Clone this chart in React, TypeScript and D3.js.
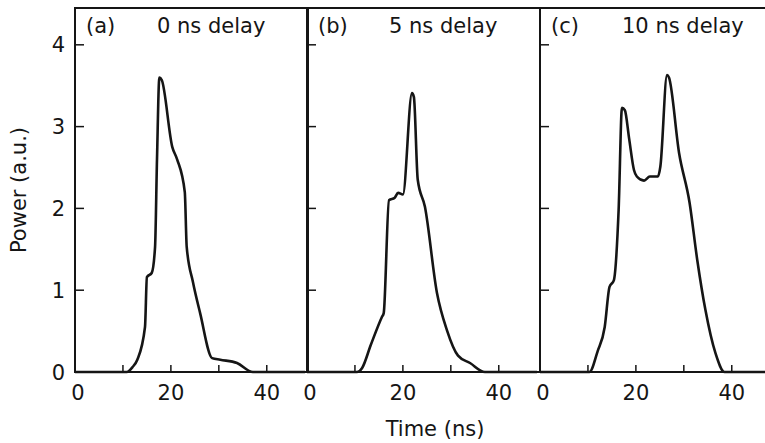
import React from "react";
import * as d3 from "d3";

const panelLabels = ["(a)", "(b)", "(c)"];
const delayLabels = ["0 ns delay", "5 ns delay", "10 ns delay"];

const timeA = [0, 10.8, 12.0, 13.0, 14.6, 15.0, 16.0, 16.7, 17.1, 17.6, 18.1, 20.3, 21.3, 22.9, 23.3, 24.6, 26.1, 28.6, 30.3, 33.8, 37.1, 48];
const powerA = [0, 0, 0.06, 0.15, 0.55, 1.16, 1.21, 1.53, 2.59, 3.6, 3.57, 2.75, 2.6, 2.2, 1.53, 1.1, 0.72, 0.17, 0.15, 0.11, 0, 0];

const timeB = [0, 10.4, 11.5, 13.3, 15.6, 16.0, 17.1, 18.3, 19.0, 20.0, 21.9, 22.3, 23.1, 24.6, 27.1, 29.2, 31.5, 34.0, 37.1, 48];
const powerB = [0, 0, 0.05, 0.33, 0.67, 0.72, 2.1, 2.13, 2.19, 2.17, 3.41, 3.36, 2.35, 2.02, 0.97, 0.51, 0.2, 0.11, 0, 0];

const timeC = [0, 10.3, 12.0, 13.5, 14.5, 15.4, 16.4, 17.1, 17.7, 18.6, 19.6, 20.2, 21.7, 22.9, 24.6, 25.1, 26.5, 26.9, 29.0, 31.2, 32.8, 34.5, 36.6, 38.5, 48];
const powerC = [0, 0, 0.25, 0.55, 1.04, 1.12, 1.98, 3.23, 3.2, 2.85, 2.47, 2.39, 2.34, 2.39, 2.39, 2.51, 3.63, 3.6, 2.68, 2.07, 1.37, 0.76, 0.23, 0, 0];

const xTickLabels = [0, 20, 40];
const xMinorTicks = [10, 20, 30, 40];
const yTicks = [0, 1, 2, 3, 4];

const series = [
  { t: timeA, p: powerA },
  { t: timeB, p: powerB },
  { t: timeC, p: powerC },
];

export default function App() {
  const W = 765, H = 443;
  const top = 8, bottom = 372;
  const panelW = 233;
  const lefts = [75, 307, 540];
  const xDomainMax = 48.6;
  const y = d3.scaleLinear().domain([0, 4.45]).range([bottom, top]);
  const font = "'DejaVu Sans', sans-serif";
  const ink = "#151515";

  return (
    <svg width={W} height={H} style={{ position: "absolute", left: 0, top: 0, background: "#fff" }}>
      {series.map((s, i) => {
        const x = d3.scaleLinear().domain([0, xDomainMax]).range([lefts[i], lefts[i] + panelW]);
        const pts: [number, number][] = s.t.map((t, k) => [t, s.p[k]]);
        const line = d3.line<[number, number]>().x(d => x(d[0])).y(d => y(d[1])).curve(d3.curveMonotoneX);
        return (
          <g key={i}>
            <rect x={lefts[i]} y={top} width={panelW} height={bottom - top} fill="none" stroke={ink} strokeWidth={2} />
            {yTicks.filter(v => v > 0).map(v => (
              <line key={v} x1={lefts[i]} x2={lefts[i] + 9} y1={y(v)} y2={y(v)} stroke={ink} strokeWidth={1.5} />
            ))}
            {xMinorTicks.map(v => (
              <line key={v} x1={x(v)} x2={x(v)} y1={bottom} y2={bottom - 7} stroke={ink} strokeWidth={1.5} />
            ))}
            {xTickLabels.map(v => (
              <text key={v} x={x(v) + (v === 0 ? 3 : 0)} y={400} textAnchor="middle" fontFamily={font} fontSize={21} fill={ink}>{v}</text>
            ))}
            <path d={line(pts) || ""} fill="none" stroke={ink} strokeWidth={2.6} strokeLinejoin="round" />
            <text x={lefts[i] + 11} y={33} fontFamily={font} fontSize={21} fill={ink}>{panelLabels[i]}</text>
            <text x={lefts[i] + 82} y={33} fontFamily={font} fontSize={21} fill={ink}>{delayLabels[i]}</text>
          </g>
        );
      })}
      {yTicks.map(v => (
        <text key={v} x={65} y={y(v) + 7.5} textAnchor="end" fontFamily={font} fontSize={21} fill={ink}>{v}</text>
      ))}
      <text transform={`translate(26,190) rotate(-90)`} textAnchor="middle" fontFamily={font} fontSize={21} fill={ink}>Power (a.u.)</text>
      <text x={435} y={436} textAnchor="middle" fontFamily={font} fontSize={21} fill={ink}>Time (ns)</text>
    </svg>
  );
}
